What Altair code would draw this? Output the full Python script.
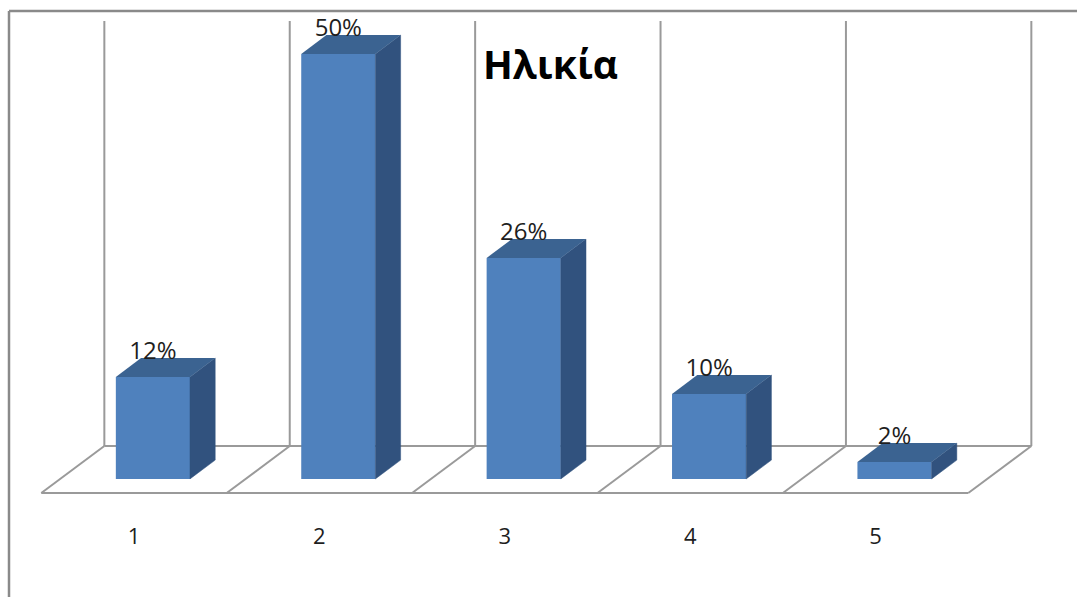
import altair as alt
import pandas as pd

# Age groups and their share of respondents (%)
categories = [1, 2, 3, 4, 5]
shares = [12, 50, 26, 10, 2]
value_labels = [f"{v}%" for v in shares]
title_text = "Ηλικία"

# Pseudo-3D projection: a point (category, value, depth z in [0, 1]) is drawn
# at x = category + z*DEPTH_X, y = value + z*DEPTH_Y
DEPTH_X = 0.34      # category units across the full floor depth
DEPTH_Y = 5.53      # percent units across the full floor depth
Z_FRONT, Z_BACK = 0.3, 0.7   # depth occupied by each column
HALF = 0.2          # half of the column width, category units
WALL_TOP = 50       # height of the back wall, percent

W, H = 1077, 597
xs = alt.Scale(domain=[0.2772, 6.0863], nice=False, zero=False)
ys = alt.Scale(domain=[-12.235, 58.0], nice=False, zero=False)

FRONT = "#4F81BD"
SIDE = "#31527E"
TOP = "#3B6391"
GRID = "#9a9a9a"


def px(c, z):
    return c + z * DEPTH_X


def py(v, z):
    return v + z * DEPTH_Y


# Floor outline and back-wall lines as segments
bounds = [c - 0.5 for c in categories] + [categories[-1] + 0.5]
segs = []
segs.append(dict(x1=bounds[0], y1=0, x2=bounds[-1], y2=0))
segs.append(dict(x1=px(bounds[0], 1), y1=py(0, 1), x2=px(bounds[-1], 1), y2=py(0, 1)))
for b in bounds:
    segs.append(dict(x1=b, y1=0, x2=px(b, 1), y2=py(0, 1)))
    segs.append(dict(x1=px(b, 1), y1=py(0, 1), x2=px(b, 1), y2=py(WALL_TOP, 1)))
seg_df = pd.DataFrame(segs)

front_df = pd.DataFrame({
    "cat": categories,
    "x0": [px(c - HALF, Z_FRONT) for c in categories],
    "x1": [px(c + HALF, Z_FRONT) for c in categories],
    "y0": [py(0, Z_FRONT) for _ in categories],
    "y1": [py(v, Z_FRONT) for v in shares],
})

side_rows, top_rows = [], []
for c, v in zip(categories, shares):
    for z in (Z_FRONT, Z_BACK):
        side_rows.append(dict(cat=c, x=px(c + HALF, z), y0=py(0, z), y1=py(v, z)))
        top_rows.append(dict(cat=c, y=py(v, z), x0=px(c - HALF, z), x1=px(c + HALF, z)))
side_df = pd.DataFrame(side_rows)
top_df = pd.DataFrame(top_rows)

label_df = pd.DataFrame({
    "x": [px(c, Z_FRONT) for c in categories],
    "y": [py(v, Z_FRONT) for v in shares],
    "label": value_labels,
})
axis_df = pd.DataFrame({"x": categories, "y": [0] * len(categories),
                        "label": [str(c) for c in categories]})

grid = alt.Chart(seg_df).mark_rule(color=GRID, strokeWidth=2).encode(
    x=alt.X("x1:Q", scale=xs, axis=None), x2="x2:Q",
    y=alt.Y("y1:Q", scale=ys, axis=None), y2="y2:Q",
)

front = alt.Chart(front_df).mark_rect(color=FRONT).encode(
    x=alt.X("x0:Q", scale=xs, axis=None), x2="x1:Q",
    y=alt.Y("y0:Q", scale=ys, axis=None), y2="y1:Q",
)

side = alt.Chart(side_df).mark_area(color=SIDE, stroke=SIDE, strokeWidth=0.5).encode(
    x=alt.X("x:Q", scale=xs, axis=None),
    y=alt.Y("y0:Q", scale=ys, axis=None), y2="y1:Q",
    detail="cat:N",
)

top = alt.Chart(top_df).mark_area(color=TOP, orient="horizontal").encode(
    y=alt.Y("y:Q", scale=ys, axis=None),
    x=alt.X("x0:Q", scale=xs, axis=None), x2="x1:Q",
    detail="cat:N",
)

values = alt.Chart(label_df).mark_text(
    font="Open Sans", fontSize=24, color="#1e1e1e", baseline="alphabetic", dy=-18
).encode(
    x=alt.X("x:Q", scale=xs, axis=None),
    y=alt.Y("y:Q", scale=ys, axis=None),
    text="label:N",
)

ticks = alt.Chart(axis_df).mark_text(
    font="Open Sans", fontSize=22, color="#1e1e1e", baseline="middle", dy=44
).encode(
    x=alt.X("x:Q", scale=xs, axis=None),
    y=alt.Y("y:Q", scale=ys, axis=None),
    text="label:N",
)

# Outer frame (top and left edges of the chart box)
frame_df = pd.DataFrame({"k": [0]})
frame_top = alt.Chart(frame_df).mark_rule(color="#8a8a8a", strokeWidth=2.5).encode(
    x=alt.value(9), x2=alt.value(W), y=alt.value(11)
)
frame_left = alt.Chart(frame_df).mark_rule(color="#8a8a8a", strokeWidth=2.5).encode(
    x=alt.value(9), y=alt.value(11), y2=alt.value(H)
)

chart = alt.layer(
    frame_top, frame_left, grid, front, side, top, values, ticks
).properties(
    width=W, height=H, autosize="none", padding=0, background="white",
    title=alt.Title(
        title_text, font="Open Sans", fontSize=39, fontWeight="bold",
        color="black", anchor="middle", frame="group", dx=12,
        offset=-118, baseline="alphabetic",
    ),
).configure_view(stroke=None)

chart.save("out.html", embed_options={"renderer": "svg", "actions": False})
